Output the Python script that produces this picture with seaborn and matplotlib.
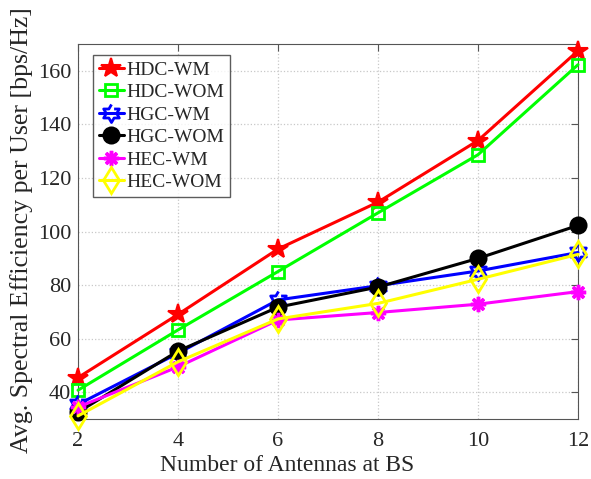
import numpy as np
import pandas as pd
import matplotlib
matplotlib.use("Agg")
import matplotlib.pyplot as plt
import seaborn as sns

antennas = [2, 4, 6, 8, 10, 12]
hdc_wm = [45.5, 69.1, 93.5, 111.0, 134.0, 167.5]
hdc_wom = [40.8, 63.3, 85.1, 107.0, 128.7, 162.3]
hgc_wm = [35.5, 54.6, 74.5, 79.8, 85.3, 92.2]
hgc_wom = [32.6, 55.4, 71.8, 79.3, 90.0, 102.3]
hec_wm = [34.5, 49.5, 67.0, 69.8, 72.9, 77.6]
hec_wom = [31.2, 51.4, 67.4, 73.2, 82.2, 91.5]

series_names = ["HDC-WM", "HDC-WOM", "HGC-WM", "HGC-WOM", "HEC-WM", "HEC-WOM"]
series_values = [hdc_wm, hdc_wom, hgc_wm, hgc_wom, hec_wm, hec_wom]

# six-pointed star (hexagram) marker
ang = np.deg2rad(90 + 30 * np.arange(12))
rad = np.where(np.arange(12) % 2 == 0, 1.0, 1 / np.sqrt(3))
hexagram = list(zip(rad * np.cos(ang), rad * np.sin(ang)))

styles = {
    "HDC-WM": dict(color="#ff0000", marker="*", ms=15, mfc="#ff0000", mew=1.5),
    "HDC-WOM": dict(color="#00ff00", marker="s", ms=9, mfc="none", mew=2),
    "HGC-WM": dict(color="#0000ff", marker=hexagram, ms=13, mfc="none", mew=2),
    "HGC-WOM": dict(color="#000000", marker="o", ms=11.5, mfc="#000000", mew=1.5),
    "HEC-WM": dict(color="#ff00ff", marker=(8, 2, 0), ms=11, mfc="#ff00ff", mew=2.5),
    "HEC-WOM": dict(color="#ffff00", marker="d", ms=13, mfc="none", mew=2),
}

df = pd.DataFrame({
    "antennas": np.tile(antennas, len(series_names)),
    "value": np.concatenate(series_values),
    "scheme": np.repeat(series_names, len(antennas)),
})

sns.set_style("white")
plt.rcParams["font.family"] = ["Liberation Serif", "DejaVu Serif"]
plt.rcParams["mathtext.fontset"] = "stix"

fig = plt.figure(figsize=(5.91, 4.79), dpi=100)
ax = fig.add_axes([0.132, 0.125, 0.846, 0.783])

for name in series_names:
    st = styles[name]
    sub = df[df["scheme"] == name]
    sns.lineplot(data=sub, x="antennas", y="value", ax=ax, color=st["color"],
                 marker=st["marker"], markersize=st["ms"], markerfacecolor=st["mfc"],
                 markeredgecolor=st["color"], markeredgewidth=st["mew"],
                 linewidth=2.2, label=name, clip_on=False, zorder=3)

ax.set_xlim(2, 12)
ax.set_ylim(30, 170)
ax.set_xticks(antennas)
ax.set_yticks([40, 60, 80, 100, 120, 140, 160])
ax.grid(True, linestyle=":", color="#c8c8c8", linewidth=0.9)
ax.set_axisbelow(True)
for sp in ax.spines.values():
    sp.set_color("#555555")
    sp.set_linewidth(0.8)
ax.tick_params(direction="in", length=5, width=0.8, color="#555555",
               labelsize=16, top=True, right=True)
ax.tick_params(axis="x", pad=9)
ax.tick_params(axis="y", pad=5)
ax.set_xlabel("Number of Antennas at BS", fontsize=17)
ax.xaxis.set_label_coords(0.418, -0.095)
ax.set_ylabel("Avg. Spectral Efficiency per User [bps/Hz]", fontsize=18.6)
ax.yaxis.set_label_coords(-0.09, 0.505)

leg = ax.legend(loc="upper left", bbox_to_anchor=(0.03, 0.97), fontsize=14,
                frameon=True, fancybox=False, edgecolor="#333333",
                handlelength=1.3, handletextpad=0.12, borderpad=0.3,
                labelspacing=0.25, borderaxespad=0.0)
leg.get_frame().set_linewidth(1.0)
leg.set_zorder(5)

fig.savefig("out.png", dpi=100)
